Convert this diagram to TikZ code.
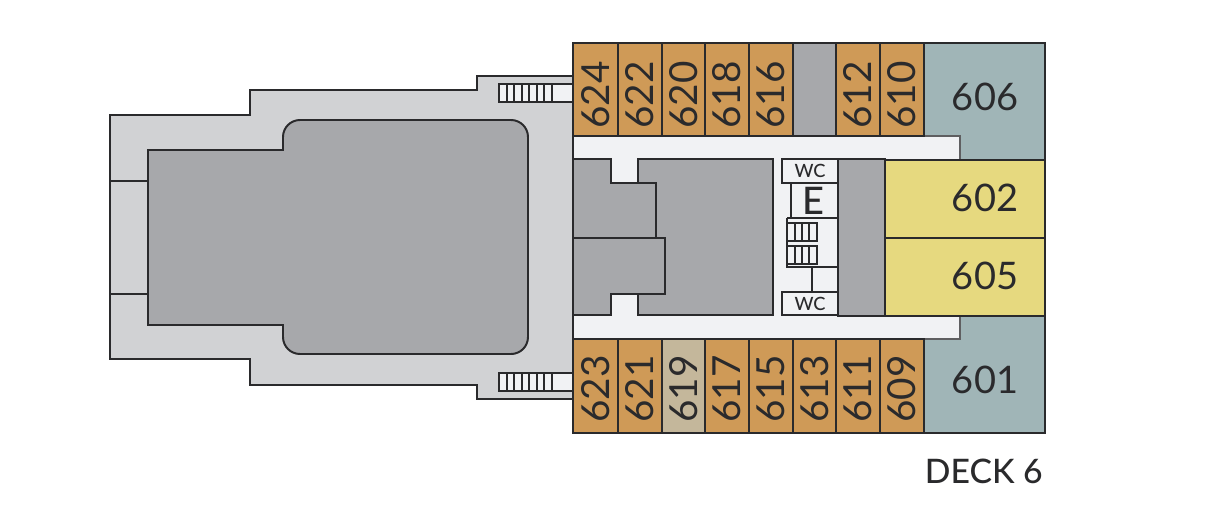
\documentclass[tikz,border=0pt]{standalone}
\usepackage{fontspec}
\setmainfont{Lato}
\newfontfamily\deckfont{Lato Medium}
\definecolor{deckgray}{HTML}{D1D2D4}
\definecolor{blockgray}{HTML}{A7A8AB}
\definecolor{hallwhite}{HTML}{F1F2F4}
\definecolor{cabinorange}{HTML}{CF9A57}
\definecolor{cabintan}{HTML}{C4B79B}
\definecolor{suiteteal}{HTML}{A0B5B7}
\definecolor{suiteyellow}{HTML}{E6D97F}
\definecolor{planline}{HTML}{2A2A2C}
\tikzset{
  wall/.style={draw=planline,line width=1.4pt,line join=miter},
  thin wall/.style={draw=planline,line width=1pt},
  hall edge/.style={draw=planline!75,line width=1.1pt},
  cabinlabel/.style={text=planline,font=\fontsize{27.5}{27.5}\selectfont,inner sep=0pt,rotate=90},
  suitelabel/.style={text=planline,font=\fontsize{27}{27}\selectfont,inner sep=0pt},
  wclabel/.style={text=planline,font=\deckfont\fontsize{13}{13}\selectfont,inner sep=0pt}
}
\begin{document}
\begin{tikzpicture}[x=0.025cm,y=-0.025cm]
  \useasboundingbox (0,0) rectangle (1216,516);
  % open deck
  \draw[wall,fill=deckgray] (573,76) -- (477,76) -- (477,90) -- (250,90) -- (250,115) -- (110,115) -- (110,359) -- (250,359) -- (250,385) -- (477,385) -- (477,399) -- (573,399) -- cycle;
  \draw[wall] (110,181) -- (148,181);
  \draw[wall] (110,294) -- (148,294);
  \draw[wall,fill=blockgray] (148,150) -- (283,150) -- (283,137) .. controls (283,127.6) and (290.6,120) .. (300,120) -- (511,120) .. controls (520.4,120) and (528,127.6) .. (528,137) -- (528,337) .. controls (528,346.4) and (520.4,354) .. (511,354) -- (300,354) .. controls (290.6,354) and (283,346.4) .. (283,337) -- (283,325) -- (148,325) -- cycle;
  % gangways
  \foreach \y in {84,373} {
    \draw[thin wall,fill=hallwhite] (573,\y) -- (499,\y) -- (499,\y+18) -- (573,\y+18);
    \foreach \x in {507,514,522,529,537,544,552}
      \draw[thin wall] (\x,\y) -- (\x,\y+18);
  }
  % middle of the ship
  \fill[hallwhite] (573,136) rectangle (960,339);
  \draw[wall,fill=blockgray] (573,159) -- (611,159) -- (611,183) -- (656,183) -- (656,238) -- (573,238) -- cycle;
  \draw[wall,fill=blockgray] (573,238) -- (665,238) -- (665,294) -- (611,294) -- (611,315) -- (573,315) -- cycle;
  \draw[wall,fill=blockgray] (638,159) -- (773,159) -- (773,315) -- (638,315) -- (638,294) -- (665,294) -- (665,238) -- (656,238) -- (656,183) -- (638,183) -- cycle;
  \draw[wall] (611,183) -- (656,183) -- (656,238);
  \draw[wall] (573,136) -- (573,339);
  \draw[wall,fill=blockgray] (838,159) rectangle (885,316);
  % toilets, lift, stairs
  \draw[wall] (782,159) rectangle node[wclabel] (wcupper) {WC} (838,183);
  \draw[wall] (791,183) -- (791,218);
  \node[text=planline,font=\deckfont\fontsize{27}{27}\selectfont,inner sep=0pt] (lift) at (813,201) {E};
  \draw[wall] (787,218) -- (838,218);
  \draw[wall] (787,218) -- (787,267) -- (838,267);
  \foreach \y in {223,246} {
    \draw[thin wall] (787,\y) rectangle (817,\y+18);
    \foreach \x in {795,802,809}
      \draw[thin wall] (\x,\y) -- (\x,\y+18);
  }
  \draw[wall] (812,267) -- (812,292);
  \draw[wall] (782,292) rectangle node[wclabel] (wclower) {WC} (838,315);
  % suites
  \fill[suiteteal] (924,43) -- (1045,43) -- (1045,160) -- (960,160) -- (960,136) -- (924,136) -- cycle;
  \fill[suiteteal] (924,433) -- (1045,433) -- (1045,316) -- (960,316) -- (960,339) -- (924,339) -- cycle;
  \draw[hall edge] (924,136) -- (960,136) -- (960,160);
  \draw[hall edge] (924,339) -- (960,339) -- (960,316);
  \draw[wall] (924,136) -- (924,43) -- (1045,43) -- (1045,433) -- (924,433) -- (924,339);
  \draw[wall,fill=suiteyellow] (885,160) rectangle (1045,238);
  \draw[wall,fill=suiteyellow] (885,238) rectangle (1045,316);
  \node[suitelabel] (s606) at (985,97) {606};
  \node[suitelabel] (s602) at (985,198) {602};
  \node[suitelabel] (s605) at (985,276) {605};
  \node[suitelabel] (s601) at (985,380) {601};
  % cabins
  \foreach \xa/\xb/\num in {573/618/624,618/662/622,662/705/620,705/749/618,749/793/616,836/880/612,880/924/610} {
    \draw[wall,fill=cabinorange] (\xa,43) rectangle (\xb,136);
    \node[cabinlabel] (c\num) at ({(\xa+\xb)/2},95) {\num};
  }
  \draw[wall,fill=blockgray] (793,43) rectangle (836,136);
  \foreach \xa/\xb/\num/\col in {573/618/623/cabinorange,618/662/621/cabinorange,662/705/619/cabintan,705/749/617/cabinorange,749/793/615/cabinorange,793/836/613/cabinorange,836/880/611/cabinorange,880/924/609/cabinorange} {
    \draw[wall,fill=\col] (\xa,339) rectangle (\xb,433);
    \node[cabinlabel] (c\num) at ({(\xa+\xb)/2},389) {\num};
  }
  \node[anchor=east,text=planline,font=\deckfont\fontsize{24}{24}\selectfont,inner sep=0pt] (decklabel) at (1043,471) {DECK 6};
\end{tikzpicture}
\end{document}
